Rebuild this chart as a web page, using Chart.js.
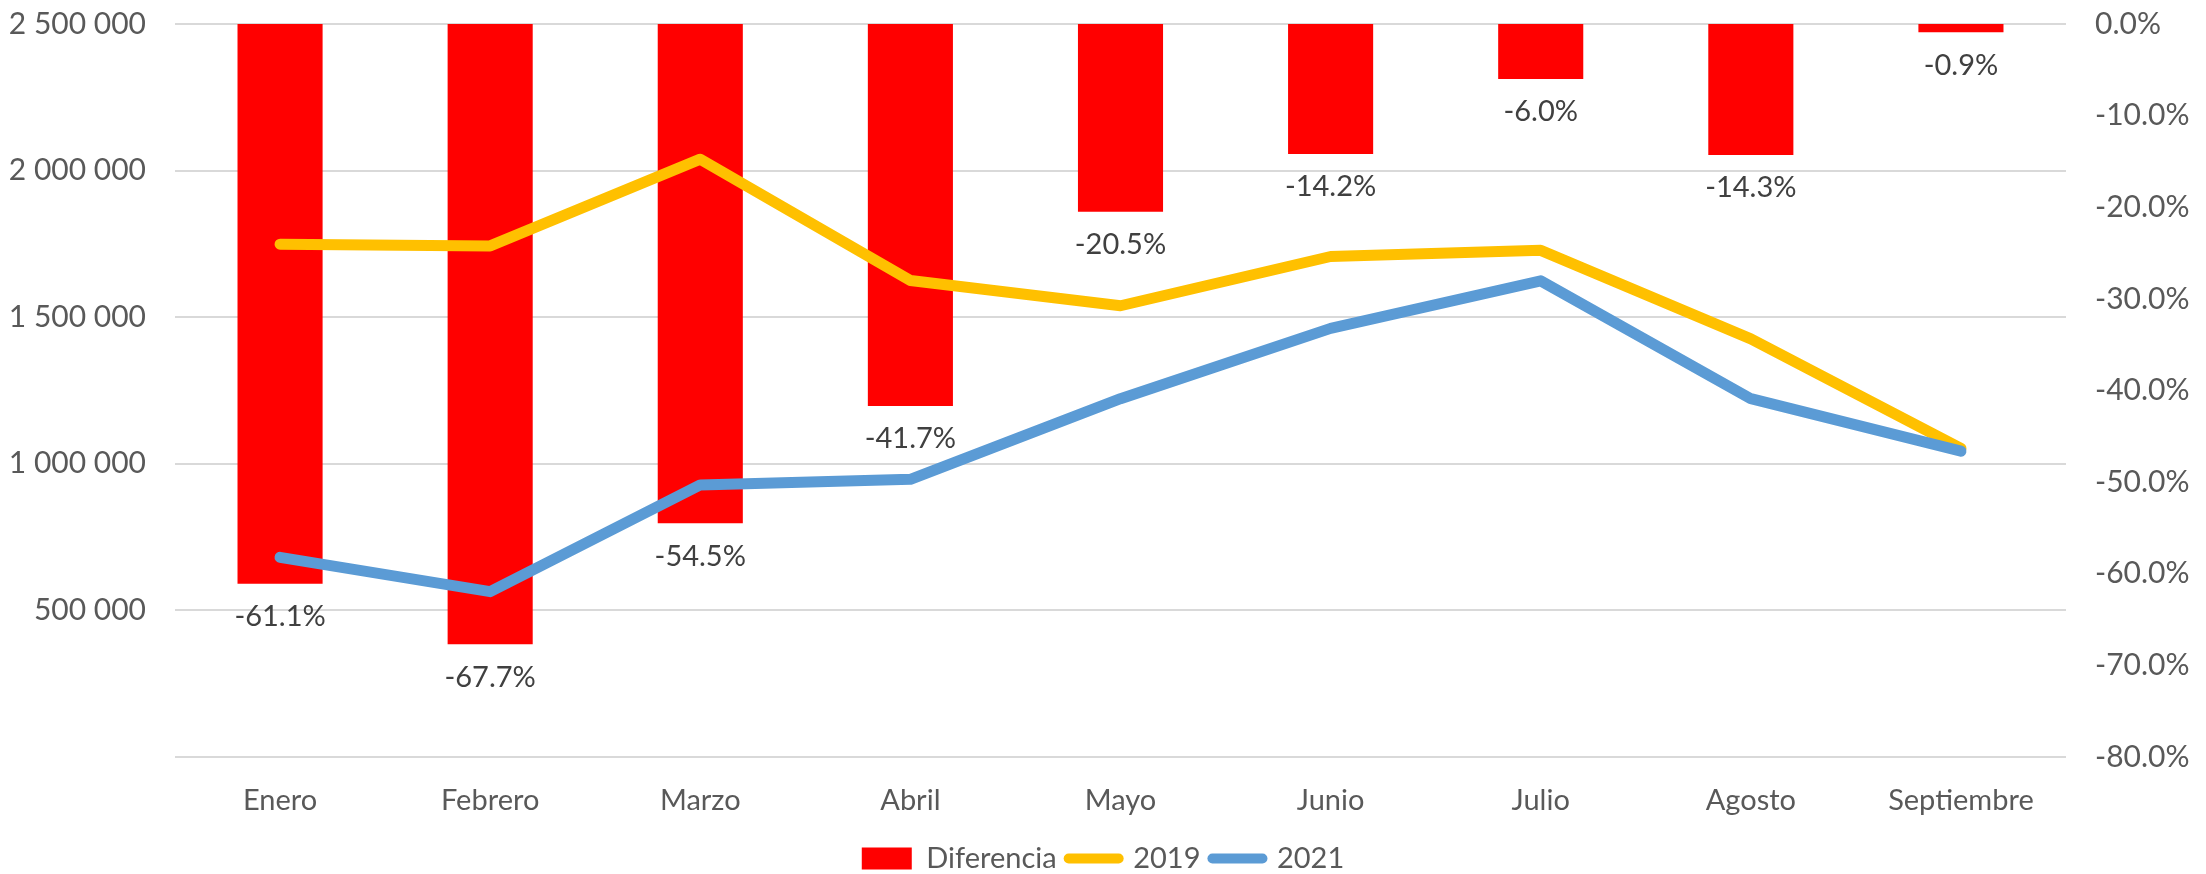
<!DOCTYPE html>
<html>
<head>
<meta charset="utf-8">
<script src="https://cdn.jsdelivr.net/npm/chart.js@4/dist/chart.umd.min.js"></script>
<style>
  html, body { margin: 0; padding: 0; background: #fff; }
  #wrap { width: 2206px; height: 874px; }
</style>
</head>
<body>
<div id="wrap"><canvas id="chart" width="2206" height="874"></canvas></div>
<script>
const months = ['Enero', 'Febrero', 'Marzo', 'Abril', 'Mayo', 'Junio', 'Julio', 'Agosto', 'Septiembre'];
const diferencia = [-61.1, -67.7, -54.5, -41.7, -20.5, -14.2, -6.0, -14.3, -0.9];
const v2019 = [1749000, 1743000, 2039000, 1625000, 1539000, 1707000, 1728000, 1426000, 1053000];
const v2021 = [681000, 564000, 928000, 947000, 1222000, 1462000, 1624000, 1222000, 1043000];
const leftTicks = [0, 500000, 1000000, 1500000, 2000000, 2500000];
const rightTicks = [0, -10, -20, -30, -40, -50, -60, -70, -80];

const FONT = 'Lato, "Open Sans", sans-serif';
const fmtNum = v => v === 0 ? '' : String(v).replace(/\B(?=(\d{3})+(?!\d))/g, ' ');

// labels under each bar, e.g. "-61.1%"
const barLabels = {
  id: 'barLabels',
  afterDatasetsDraw(chart) {
    const meta = chart.getDatasetMeta(0);
    const ctx = chart.ctx;
    ctx.save();
    ctx.font = '29px ' + FONT;
    ctx.fillStyle = '#404040';
    ctx.textAlign = 'center';
    ctx.textBaseline = 'middle';
    meta.data.forEach((bar, i) => {
      ctx.fillText(diferencia[i].toFixed(1) + '%', bar.x, bar.y + 33);
    });
    ctx.restore();
  }
};

new Chart(document.getElementById('chart'), {
  data: {
    labels: months,
    datasets: [
      { type: 'bar', label: 'Diferencia', data: diferencia, yAxisID: 'yR',
        backgroundColor: '#FF0000', barPercentage: 0.81, categoryPercentage: 0.5, order: 3 },
      { type: 'line', label: '2019', data: v2019, yAxisID: 'yL',
        borderColor: '#FFC000', borderWidth: 11, pointRadius: 0, borderCapStyle: 'round',
        borderJoinStyle: 'round', tension: 0, order: 2 },
      { type: 'line', label: '2021', data: v2021, yAxisID: 'yL',
        borderColor: '#5B9BD5', borderWidth: 11, pointRadius: 0, borderCapStyle: 'round',
        borderJoinStyle: 'round', tension: 0, order: 1 }
    ]
  },
  options: {
    responsive: false,
    animation: false,
    layout: { padding: { top: 24, left: 0, right: 0, bottom: -9 } },
    plugins: {
      tooltip: { enabled: false },
      legend: {
        position: 'bottom',
        labels: {
          font: { family: FONT, size: 29 },
          color: '#595959',
          usePointStyle: true,
          pointStyleWidth: 50,
          boxHeight: 22,
          padding: 12,
          generateLabels(chart) {
            return chart.data.datasets.map((ds, i) => ds.type === 'bar'
              ? { text: ds.label, datasetIndex: i, pointStyle: 'rect', fillStyle: ds.backgroundColor,
                  strokeStyle: ds.backgroundColor, lineWidth: 0, fontColor: '#595959' }
              : { text: ds.label, datasetIndex: i, pointStyle: 'line', fillStyle: ds.borderColor,
                  strokeStyle: ds.borderColor, lineWidth: 10, lineCap: 'round', fontColor: '#595959' });
          }
        }
      }
    },
    scales: {
      x: {
        offset: true,
        grid: { display: false },
        border: { display: false },
        ticks: { font: { family: FONT, size: 29 }, color: '#595959', padding: 18, maxRotation: 0 },
        afterFit(s) { s.height = 75; }
      },
      yL: {
        position: 'left',
        min: 0, max: 2500000,
        afterBuildTicks(s) { s.ticks = leftTicks.map(v => ({ value: v })); },
        grid: { color: '#D9D9D9', lineWidth: 2, drawTicks: false },
        border: { display: false },
        ticks: { font: { family: FONT, size: 30 }, color: '#595959', padding: 29, callback: v => fmtNum(v) },
        afterFit(s) { s.width = 175; s.paddingTop = 0; s.paddingBottom = 0; }
      },
      yR: {
        position: 'right',
        min: -80, max: 0,
        afterBuildTicks(s) { s.ticks = rightTicks.map(v => ({ value: v })); },
        grid: { display: false, drawTicks: false },
        border: { display: false },
        ticks: { font: { family: FONT, size: 30 }, color: '#595959', padding: 29, callback: v => v.toFixed(1) + '%' },
        afterFit(s) { s.width = 140; s.paddingTop = 0; s.paddingBottom = 0; }
      }
    }
  },
  plugins: [barLabels]
});
</script>
</body>
</html>
